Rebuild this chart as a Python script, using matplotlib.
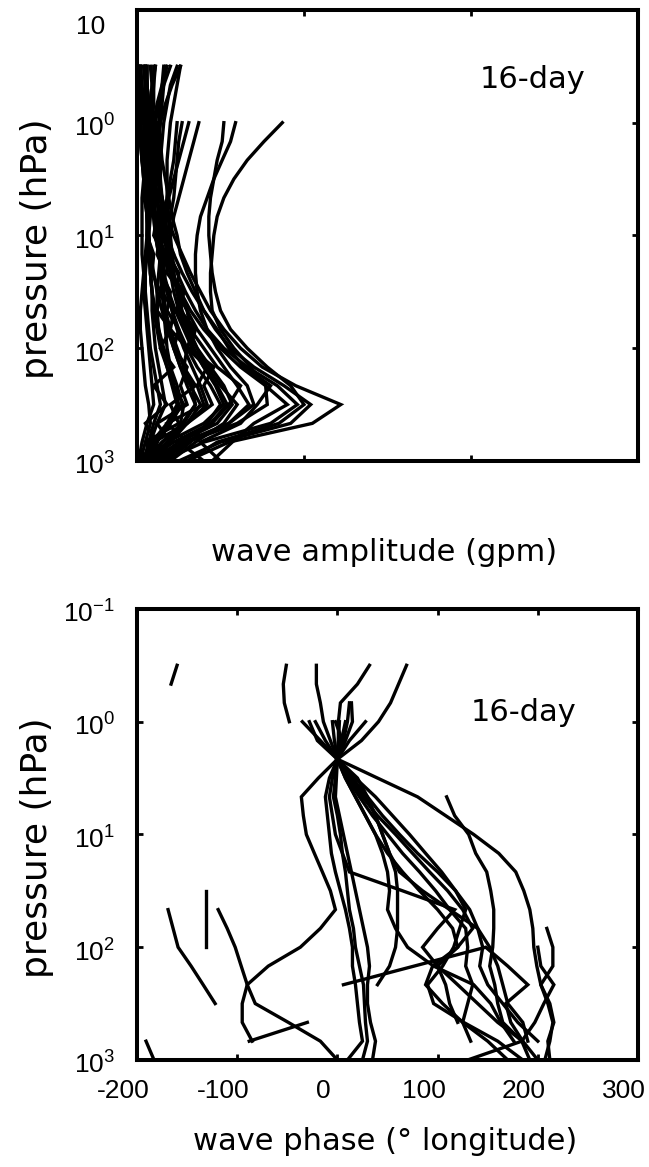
import numpy as np
import matplotlib
matplotlib.use("Agg")
import matplotlib.pyplot as plt
from matplotlib.transforms import ScaledTranslation

nan = np.nan

# UKMO-style pressure levels (hPa), 1000 hPa upward
PRESSURE = [1000, 681, 464, 316, 215, 147, 100, 68.1, 46.4, 31.6, 21.5,
            14.7, 10.0, 6.81, 4.64, 3.16, 2.15, 1.47, 1.0, 0.681, 0.464, 0.316]

# wave amplitude profiles (gpm), one per event, 1000 hPa upward
AMPLITUDE = [
    [30, 55, 105, 122, 95, 75, 62, 52, 44, 38, 32, 27, 22, 18, 15, 12, 10, 8, 7, 6, 5, 4],
    [25, 50, 92, 104, 88, 70, 56, 47, 40, 33, 27, 22, 18, 16, 15, 14, 14, 15, 16, 18, 20, 24],
    [15, 40, 80, 96, 84, 66, 52, 42, 35, 29, 24, 20, 17, 15, 14, 13, 13, 13, 14, 15, 16, 17],
    [45, 57, 70, 90, 77, 62, 50, 40, 32, 26, 21, 17, 13, 10, 8, 7, 6, 6, 6, 6, 6, 6],
    [12, 30, 55, 67, 60, 52, 44, 36, 30, 25, 20, 16, 13, 11, 9, 8, 7, 7, 8, 9, 10, 11],
    [5, 22, 44, 54, 48, 40, 33, 28, 23, 19, 16, 14, 12, 11, 10, 10, 11, 12, 14, 17, 21, 26],
    [3, 15, 30, 42, 38, 33, 28, 24, 21, 18, 15, 13, 11, 10, 9, 8, 8, 9, 11, 13, 16, 20],
    [8, 18, 28, 35, 30, 26, 22, 18, 15, 12, 10, 8, 7, 6, 5, 5, 4, 4, 4, 3, 3, 2],
    [2, 10, 20, 27, 24, 20, 16, 13, 11, 9, 8, 7, 6, 6, 6, 6, 7, 8, 9, 10, 10, 10],
    [10, 20, 26, 28, 22, 18, 14, 12, 10, 9, 8, 8, 7, 6, 5, 4, 3, 2, 2, 1, 1, 1],
    [4, 8, 12, 17, 15, 13, 11, 10, 9, 9, 8, 8, 7, 7, 7, 6, 6, 5, 5, 5, 5, 4],
    [1, 3, 6, 10, 9, 8, 7, 6, 5, 4, 4, 3, 3, 3, 3, 4, 5, 6, 7, 8, 9, 11],
    [20, 35, 52, 60, 50, 42, 36, 31, 27, 24, 22, 20, 18, 17, 15, 13, 11, 9, 8, 7, 6, 6],
    [6, 12, 20, 25, 22, 20, 18, 17, 16, 15, 15, 14, 14, 13, 12, 11, 10, 9, 8, 7, 6, 5],
    [9, 25, 48, 57, 52, 44, 36, 30, 26, 24, 22, 21, 20, 19, 18, 18, 18, 19, 20, 22, 24, 26],
    [2, 5, 8, 7, 5, 4, 3, 2, 2, 3, 4, 5, 6, 6, 5, 4, 3, 2, 1, 1, 1, 1],
    [6, 20, 12, 30, 26, 30, 22, 25, 18, 20, 14, 16, 10, 12, 8, 9, 6, 7, 5, 4, 3, 2],
    [40, 25, 45, 55, 62, 48, 40, 32, 30, 24, 25, 18, 17, 13, 12, 10, 9, 8, 8, 7, 6, 5],
    [14, 5, 25, 20, 35, 28, 30, 20, 22, 15, 17, 12, 14, 10, 11, 9, 8, 9, 10, 12, 15, 18],
    [22, 10, 30, 45, 40, 46, 32, 35, 26, 28, 20, 22, 16, 18, 13, 14, 12, 11, 10, 9, 9, 8],
    [3, 12, 5, 18, 10, 22, 14, 20, 12, 14, 9, 10, 6, 7, 4, 5, 3, 3, 2, 2, 2, 2],
    [8, 30, 18, 40, 36, 42, 30, 34, 24, 26, 18, 19, 15, 14, 12, 11, 11, 12, 13, 14, 15, 16],
    [15, 30, 60, 78, 77, 68, 58, 50, 45, 44, 44, 45, 46, 48, 52, 58, 66, 76, 87, nan, nan, nan],
    [30, 48, 85, 100, 92, 78, 66, 56, 50, 47, 45, 44, 43, 43, 44, 46, 48, 51, 52, nan, nan, nan],
    [10, 28, 55, 70, 66, 56, 48, 42, 38, 36, 35, 35, 36, 38, 42, 46, 51, 56, 59, nan, nan, nan],
    [5, 18, 40, 52, 47, 40, 34, 29, 25, 22, 20, 19, 20, 22, 25, 28, 31, 34, 37, nan, nan, nan],
    [7, 15, 27, 35, 33, 28, 24, 20, 17, 15, 14, 14, 15, 17, 19, 22, 25, 28, 31, nan, nan, nan],
    [12, 20, 30, 38, 32, 26, 22, 19, 17, 16, 16, 17, 18, 20, 22, 23, 24, 25, 27, nan, nan, nan],
    [3, 9, 18, 24, 21, 18, 15, 13, 12, 12, 13, 14, 15, 16, 18, 20, 22, 23, 24, nan, nan, nan],
    [18, 32, 42, 50, 44, 36, 30, 25, 21, 18, 15, 13, 11, 10, 9, 9, 10, 11, 12, nan, nan, nan],
    [4, 7, 10, 14, 12, 10, 8, 7, 6, 5, 5, 6, 7, 8, 9, 10, 11, 12, 13, nan, nan, nan],
    [50, 38, 62, 72, 80, 64, 55, 48, 40, 35, 30, 26, 24, 21, 19, 17, 15, 14, 13, nan, nan, nan],
]

# wave phase profiles (deg longitude), 1000 hPa upward; nan where missing
PHASE = [
    [nan, -85, -95, -95, -90, -69, -37, -17, -2, -7, -15, -23, -31, -34, -36, -19, 0, -7, -14, -17, -21, -21],
    [207, 212, 215, 210, 203, 199, 196, 195, 192, 186, 178, 161, 136, 108, 80, 40, 0, 24, 41, 53, 61, 69],
    [212, 210, 216, 212, 203, 215, 215, 209, nan, nan, nan, nan, nan, nan, nan, nan, nan, nan, nan, nan, nan, nan],
    [130, 184, 197, 206, 216, 203, 200, nan, nan, nan, nan, nan, nan, nan, nan, nan, nan, nan, nan, nan, nan, nan],
    [192, 184, 165, 160, 157, 152, 155, 156, 156, 153, 149, 138, 131, 117, 109, nan, nan, nan, nan, nan, nan, nan],
    [200, 185, 160, 140, 120, 100, 120, 135, 125, 110, 92, 75, 58, 40, 25, 12, 0, -12, -22, nan, nan, nan],
    [nan, 200, 180, 165, 150, 142, 145, 140, 132, 118, 100, 80, 62, 45, 30, 15, 0, -17, -35, nan, nan, nan],
    [nan, 133, 125, 130, 135, 128, 130, 128, 112, 98, 82, 65, 50, 35, 22, 10, 0, 4, 8, nan, nan, nan],
    [170, 150, 125, 105, 88, 95, 120, 115, 100, 82, 65, 50, 38, 28, 18, 8, 0, -3, -5, nan, nan, nan],
    [nan, 190, 185, 170, 165, 160, 152, 140, 112, 85, 62, 52, 45, 38, 28, 14, 0, 1, 2, nan, nan, nan],
    [nan, nan, nan, nan, 40, 52, 58, 60, 60, 60, 58, 52, 45, 38, 30, 20, 0, nan, nan, nan, nan, nan],
    [10, 25, 22, 20, 18, 15, 15, 12, 8, 3, -2, -6, -8, -10, -12, -8, 0, 5, -2, nan, nan, nan],
    [35, 38, 33, 30, 30, 32, 30, 26, 22, 18, 14, 10, 6, 2, -2, -1, 0, 1, 1, 3, 20, 32],
    [25, 30, 28, 27, 26, 22, 18, 16, 12, 10, 8, 5, 3, 0, -4, -2, 0, 6, 10, 12, nan, nan],
    [nan, nan, 120, 112, 108, 100, 85, 100, 117, 65, 12, 5, -2, -5, -8, -5, 0, 8, 15, 14, nan, nan],
    [nan, 176, 163, 153, 136, 96, 70, 58, 50, 52, 50, 45, 38, 28, 18, 8, 0, 12, 28, nan, nan, nan],
    [185, 160, 126, 96, 90, 105, 116, 122, 128, 118, 104, 88, 72, 55, 38, 18, 0, -20, -28, nan, nan, nan],
    [0, -17, -49, -82, -90, -96, -102, -110, -119, nan, nan, nan, nan, nan, nan, nan, nan, nan, nan, nan, nan, nan],
    [nan, nan, nan, -122, -134, -146, -159, -164, -169, nan, nan, nan, nan, nan, nan, nan, nan, nan, nan, nan, nan, nan],
    [nan, nan, nan, nan, nan, nan, -131, -131, -131, -131, nan, nan, nan, nan, nan, nan, nan, nan, nan, nan, nan, nan],
    [-183, -191, nan, nan, nan, nan, nan, nan, nan, nan, nan, nan, nan, nan, nan, nan, nan, nan, nan, nan, nan, nan],
    [nan, -88, -30, nan, nan, nan, nan, nan, nan, nan, nan, nan, nan, nan, nan, nan, nan, nan, nan, nan, nan, nan],
    [nan, nan, nan, nan, nan, nan, nan, nan, nan, nan, nan, nan, nan, nan, nan, nan, nan, nan, -48, -53, -54, -51],
    [nan, nan, nan, nan, nan, nan, nan, nan, nan, nan, nan, nan, nan, nan, nan, nan, nan, nan, nan, nan, -166, -160],
]

# one phase trace that doubles back in pressure
KINK_PHASE = [6, 148, 170, 190, 168, 173, 185]
KINK_PRES = [215, 100, 147, 215, 316, 464, 681]

LOG_TICKS = [0.1, 1, 10, 100, 1000]
LOG_LABELS = [r"$\mathregular{10^{-1}}$", r"$\mathregular{10^{0}}$", r"$\mathregular{10^{1}}$",
              r"$\mathregular{10^{2}}$", r"$\mathregular{10^{3}}$"]
PHASE_TICKS = [-200, -100, 0, 100, 200, 300]
PHASE_LABELS = ["-200", "-100", "0", "100", "200", "300"]

plt.rcParams["mathtext.fontset"] = "custom"
plt.rcParams["mathtext.rm"] = "Liberation Sans"
plt.rcParams["mathtext.it"] = "Liberation Sans"

LINE_KW = dict(color="black", linewidth=2.4, solid_joinstyle="miter")
TICK_FONT = dict(family="Liberation Sans", size=19)
LABEL_FONT = dict(family="DejaVu Sans", size=22)
YLABEL_FONT = dict(family="DejaVu Sans", size=26)


def shift(artist, fig, dx_px, dy_px):
    artist.set_transform(artist.get_transform()
                         + ScaledTranslation(dx_px / fig.dpi, dy_px / fig.dpi, fig.dpi_scale_trans))


def style_axes(ax, fig, ylabels):
    ax.set_yscale("log")
    ax.set_ylim(1000, 0.1)
    ax.set_yticks(LOG_TICKS)
    ax.set_yticklabels(ylabels, fontdict=TICK_FONT)
    ax.minorticks_off()
    ax.tick_params(direction="in", length=4, width=2, top=True, right=True)
    ax.tick_params(axis="y", pad=16)
    for spine in ax.spines.values():
        spine.set_linewidth(2.9)
    ax.set_ylabel("pressure (hPa)", fontdict=YLABEL_FONT)
    ax.yaxis.set_label_coords(-0.165, 0.47)
    for lbl in ax.get_yticklabels():
        shift(lbl, fig, 0, -3)


fig = plt.figure(figsize=(6.49, 11.67), dpi=100)
ax1 = fig.add_axes([0.2111, 0.6050, 0.772, 0.3865])
ax2 = fig.add_axes([0.2111, 0.0917, 0.772, 0.3865])

# amplitude panel
for prof in AMPLITUDE:
    ax1.plot(prof, PRESSURE, **LINE_KW)
style_axes(ax1, fig, ["10"] + LOG_LABELS[1:])
shift(ax1.get_yticklabels()[0], fig, -10, -12)
ax1.set_xlim(0, 300)
ax1.set_xticks([100, 200])
ax1.set_xticklabels([])
ax1.set_xlabel("wave amplitude (gpm)", fontdict=LABEL_FONT)
ax1.xaxis.set_label_coords(0.494, -0.17)
ax1.text(0.79, 0.845, "16-day", transform=ax1.transAxes, ha="center", va="center", **LABEL_FONT)

# phase panel
for prof in PHASE:
    ax2.plot(prof, PRESSURE, **LINE_KW)
ax2.plot(KINK_PHASE, KINK_PRES, **LINE_KW)
style_axes(ax2, fig, LOG_LABELS)
ax2.set_xlim(-200, 300)
ax2.set_xticks(PHASE_TICKS)
ax2.set_xticklabels(PHASE_LABELS, fontdict=TICK_FONT)
ax2.tick_params(axis="x", pad=14)
for lbl in ax2.get_xticklabels():
    shift(lbl, fig, -14, 0)
ax2.set_xlabel("wave phase (\u00b0 longitude)", fontdict=LABEL_FONT)
ax2.xaxis.set_label_coords(0.495, -0.1486)
ax2.text(0.772, 0.77, "16-day", transform=ax2.transAxes, ha="center", va="center", **LABEL_FONT)

fig.savefig("out.png", dpi=100)
